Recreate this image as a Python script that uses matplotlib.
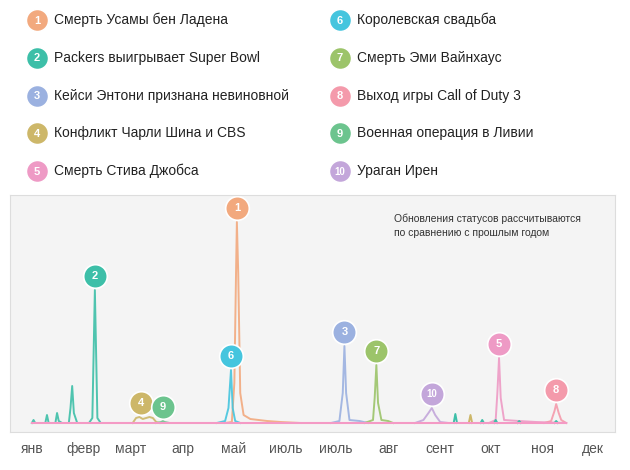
import matplotlib.pyplot as plt

plt.rcParams['font.family'] = ['Liberation Sans', 'DejaVu Sans']

# ─── data ───────────────────────────────────────────────
events = ['Смерть Усамы бен Ладена', 'Packers выигрывает Super Bowl',
          'Кейси Энтони признана невиновной', 'Конфликт Чарли Шина и CBS',
          'Смерть Стива Джобса', 'Королевская свадьба', 'Смерть Эми Вайнхаус',
          'Выход игры Call of Duty 3', 'Военная операция в Ливии', 'Ураган Ирен']
colors = ['#F2A97E', '#3DBFA8', '#9BB1E0', '#CDB769', '#EE9AC5',
          '#45C5DE', '#9CC46A', '#F49AAB', '#6CC48E', '#C3A6DA']

months = ['янв', 'февр', 'март', 'апр', 'май', 'июль', 'июль', 'авг', 'сент', 'окт', 'ноя', 'дек']
month_days = [0, 31, 59, 90, 120, 151, 181, 212, 243, 273, 304, 334]

# day-of-year points and values for each series
days = {
    1: [115, 119, 120.5, 121.5, 122, 122.8, 124, 126, 130, 140, 148, 160],
    2: [0, 1, 2, 4, 8, 9, 10, 12, 14, 15, 16, 18, 22, 23, 24, 25, 27, 34, 36, 37.5, 39, 41, 50, 80],
    3: [178, 183, 185, 186, 187, 189, 195, 200],
    4: [60, 62, 64, 66, 68, 70, 72, 74, 76],
    5: [272, 276, 277, 278, 279, 281, 290, 300, 318],
    6: [110, 115, 117, 118.5, 119.5, 121, 124],
    7: [198, 203, 204, 205, 206, 208, 212, 215],
    8: [305, 309, 311, 312, 313.5, 315, 318],
    9: [74, 77, 78, 79, 82, 90],
    10: [228, 233, 236, 238, 240, 243, 248],
}
vals = {
    1: [0, 1, 40, 150, 201, 150, 30, 8, 4, 2, 1, 0],
    2: [0, 3, 0, 0, 0, 8, 0, 0, 0, 10, 2, 0, 0, 15, 37, 10, 0, 0, 5, 133, 5, 0, 0, 0],
    3: [0, 2, 30, 77, 30, 3, 2, 0],
    4: [0, 5, 6, 4, 5, 6, 5, 1, 0],
    5: [0, 3, 30, 65, 25, 3, 2, 1, 0],
    6: [0, 2, 15, 53, 15, 2, 0],
    7: [0, 3, 25, 58, 20, 3, 2, 0],
    8: [0, 2, 12, 19, 10, 3, 0],
    9: [0, 1, 2, 1, 0, 0],
    10: [0, 3, 10, 15, 8, 1, 0],
}
# small extra spikes (day, height, series)
spikes = [(252, 9, 2), (261, 8, 4), (268, 3, 2), (276, 3, 2), (290, 2, 2), (312, 2, 2)]

# ─── figure ─────────────────────────────────────────────
fig = plt.figure(figsize=(6.3, 4.7), dpi=100)

# legend area
lg = fig.add_axes([0, 0, 1, 1])
lg.set_xlim(0, 630)
lg.set_ylim(470, 0)
lg.axis('off')
for i, name in enumerate(events):
    col, row = divmod(i, 5)
    x = 37 if col == 0 else 340
    y = 20 + row * 37.8
    lg.plot(x, y, 'o', ms=16, color=colors[i], mec='white', mew=1.2)
    lg.text(x, y + 0.5, str(i + 1), color='white', ha='center', va='center',
            fontsize=8 if i < 9 else 7, fontweight='bold')
    lg.text(x + 17, y, name, va='center', fontsize=10, color='#222222')

ax = fig.add_axes([10 / 630, 38 / 470, 605 / 630, 237 / 470])
ax.set_facecolor('#F4F4F4')
for s in ax.spines.values():
    s.set_color('#DDDDDD')
ax.set_xlim(-13, 347)
ax.set_ylim(-9, 228)
ax.set_yticks([])
ax.set_xticks(month_days)
ax.set_xticklabels(months, fontsize=10, color='#555555')
ax.tick_params(axis='x', length=0, pad=7)

for k in days:
    ax.plot(days[k], vals[k], color=colors[k - 1], lw=1.4, alpha=0.9)
for d, h, k in spikes:
    ax.plot([d - 1, d, d + 1], [0, h, 0], color=colors[k - 1], lw=1.4)
ax.plot([0, 318], [0, 0], color='#F49AC5', lw=1.5)

# numbered markers above peaks
for k in days:
    v = max(vals[k])
    d = days[k][vals[k].index(v)]
    if k == 4:
        d = 65
    ax.plot(d, v + 14, 'o', ms=17, color=colors[k - 1], mec='white', mew=1.2, clip_on=False)
    ax.text(d, v + 14, str(k), color='white', ha='center', va='center',
            fontsize=8 if k < 10 else 7, fontweight='bold')

ax.text(0.635, 0.92, 'Обновления статусов рассчитываются\nпо сравнению с прошлым годом',
        transform=ax.transAxes, fontsize=7.5, color='#333333', va='top', linespacing=1.5)

plt.savefig('out.png', dpi=100)
